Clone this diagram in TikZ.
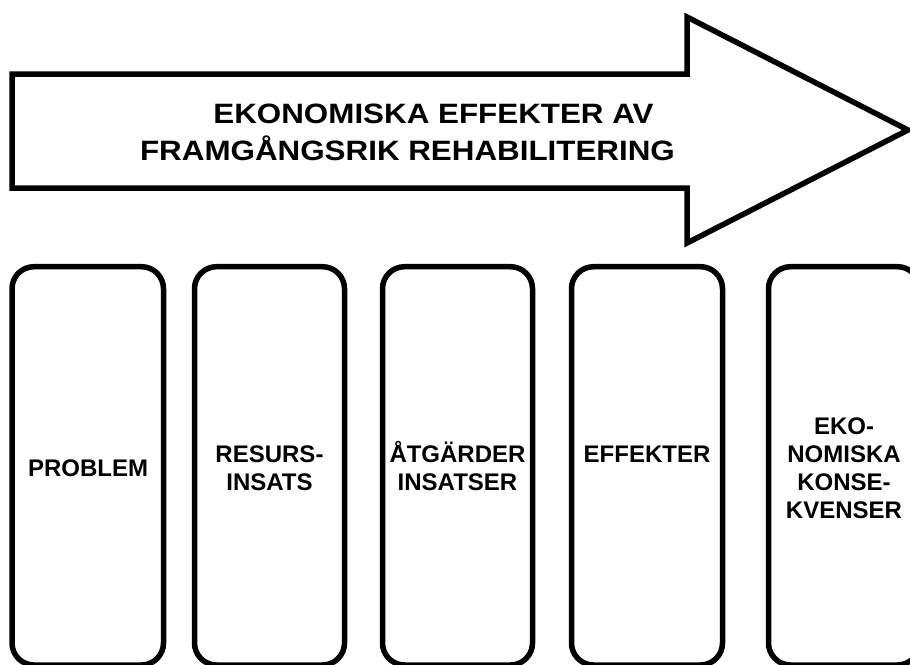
\documentclass[tikz,border=0pt]{standalone}
\usepackage{fontspec}
\setmainfont{Liberation Sans}
\newfontfamily\titlefont[FakeStretch=1.12]{Liberation Sans}
\begin{document}
\begin{tikzpicture}[x=1pt,y=-1pt,
  outline/.style={draw=black,line width=5.5pt,fill=white},
  bigarrow/.style={outline,line join=miter,miter limit=20},
  column/.style={outline,rounded corners=22pt},
  titletext/.style={inner sep=0pt,anchor=base,font=\titlefont\bfseries\fontsize{28}{37}\selectfont},
  boxtext/.style={inner sep=0pt,align=center,anchor=base,font=\bfseries\fontsize{24}{28}\selectfont}]
  \useasboundingbox (0,0) rectangle (910,664);
  \clip (0,0) rectangle (910,664);

  % the large arrow across the top
  \draw[bigarrow] (12,74) -- (687,74) -- (687,17) -- (908,130)
    -- (687,243) -- (687,188) -- (12,188) -- cycle;
  \node[titletext] (title1) at (433.5,123) {EKONOMISKA EFFEKTER AV};
  \node[titletext] (title2) at (407.5,160) {FRAMGÅNGSRIK REHABILITERING};

  % the five columns
  \draw[column] (12,266.7) rectangle (163.5,665);
  \draw[column] (194.5,266.7) rectangle (344.5,665);
  \draw[column] (382.5,266.7) rectangle (532.5,665);
  \draw[column] (571.5,266.7) rectangle (722.5,665);
  \draw[column] (768.5,266.7) rectangle (919.5,665);

  % labels, placed by the baseline of their last line
  \node[boxtext] (problem) at (88,476.5) {PROBLEM};
  \node[boxtext] (resurs) at (269.5,490) {RESURS-\\INSATS};
  \node[boxtext] (atgarder) at (457.5,490) {ÅTGÄRDER\\INSATSER};
  \node[boxtext] (effekter) at (647,462) {EFFEKTER};
  \node[boxtext] (konsekvenser) at (844,518) {EKO-\\NOMISKA\\KONSE-\\KVENSER};
\end{tikzpicture}
\end{document}
